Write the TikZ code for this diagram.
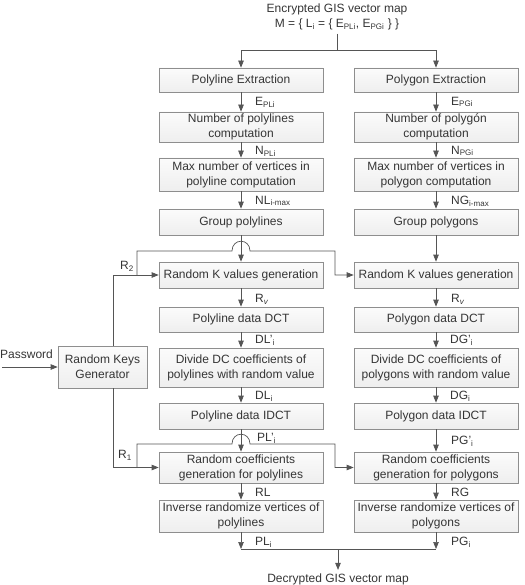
\documentclass[tikz,border=0pt]{standalone}
\usepackage{fontspec}
\setmainfont{Liberation Sans}
\usetikzlibrary{arrows.meta}
\definecolor{wirec}{HTML}{555555}
\definecolor{txc}{HTML}{353535}
\definecolor{bdc}{HTML}{8E8E8E}
\newcommand{\sbs}[1]{\textsubscript{#1}}
\begin{document}
\begin{tikzpicture}[x=1pt,y=-1pt,
  font=\fontsize{12}{15}\selectfont, text=txc,
  box/.style={draw=bdc, line width=0.7pt, top color=gray!3, bottom color=gray!13,
    minimum width=164pt, align=center, inner sep=1pt},
  wire/.style={draw=wirec, line width=0.7pt},
  arr/.style={wire, -{Triangle[length=7pt,width=5.5pt]}},
  lab/.style={anchor=west, inner sep=0pt}]
\useasboundingbox (0,0) rectangle (524,585);

% title
\node[align=center] (title) at (337,17) {Encrypted GIS vector map\\M = \{ L\sbs{i} = \{ E\sbs{PLi}, E\sbs{PGi} \} \}};

% left column
\node[box, minimum height=24pt] (plE) at (241,80) {Polyline Extraction};
\node[box, minimum height=30pt] (plN) at (241,127) {Number of polylines\\computation};
\node[box, minimum height=33pt] (plM) at (241,174.5) {Max number of vertices in\\polyline computation};
\node[box, minimum height=26pt] (plG) at (241,222) {Group polylines};
\node[box, minimum height=26pt] (rkL) at (241,275) {Random K values generation};
\node[box, minimum height=25pt] (dctL) at (241,319.5) {Polyline data DCT};
\node[box, minimum height=39pt] (divL) at (241,367.5) {Divide DC coefficients of\\polylines with random value};
\node[box, minimum height=26pt] (idctL) at (241,416) {Polyline data IDCT};
\node[box, minimum height=31pt] (rcL) at (241,467.5) {Random coefficients\\generation for polylines};
\node[box, minimum height=32pt] (irL) at (241,516) {Inverse randomize vertices of\\polylines};

% right column
\node[box, minimum height=24pt] (pgE) at (436,80) {Polygon Extraction};
\node[box, minimum height=30pt] (pgN) at (436,127) {Number of polygón\\computation};
\node[box, minimum height=33pt] (pgM) at (436,174.5) {Max number of vertices in\\polygon computation};
\node[box, minimum height=26pt] (pgG) at (436,222) {Group polygons};
\node[box, minimum height=26pt] (rkR) at (436,275) {Random K values generation};
\node[box, minimum height=25pt] (dctR) at (436,319.5) {Polygon data DCT};
\node[box, minimum height=39pt] (divR) at (436,367.5) {Divide DC coefficients of\\polygons with random value};
\node[box, minimum height=26pt] (idctR) at (436,416) {Polygon data IDCT};
\node[box, minimum height=31pt] (rcR) at (436,467.5) {Random coefficients\\generation for polygons};
\node[box, minimum height=32pt] (irR) at (436,516) {Inverse randomize vertices of\\polygons};

% key generator
\node[box, minimum width=89pt, minimum height=42pt] (rkg) at (102.5,367) {Random Keys\\Generator};
\node[lab] (pwd) at (0,354) {Password};
\coordinate (pwin) at (2,367);
\draw[arr] (pwin) -- (rkg);

% top split
\coordinate (sp) at (337,50);
\draw[wire] (title) -- (sp);
\draw[arr] (sp) -| (plE);
\draw[arr] (sp) -| (pgE);

% vertical chains
\foreach \a/\b in {plE/plN, plN/plM, plM/plG, plG/rkL, rkL/dctL, dctL/divL, divL/idctL, idctL/rcL, rcL/irL,
                   pgE/pgN, pgN/pgM, pgM/pgG, pgG/rkR, rkR/dctR, dctR/divR, divR/idctR, idctR/rcR, rcR/irR}
  \draw[arr] (\a) -- (\b);

% labels left
\node[lab] (l1) at (255,102) {E\sbs{PLi}};
\node[lab] (l2) at (255,151) {N\sbs{PLi}};
\node[lab] (l3) at (255,201) {NL\sbs{i-max}};
\node[lab] (l4) at (255,299) {R\sbs{\textit{v}}};
\node[lab] (l5) at (255,340) {DL'\sbs{i}};
\node[lab] (l6) at (255,396) {DL\sbs{i}};
\node[lab] (l7) at (257,438) {PL'\sbs{i}};
\node[lab] (l8) at (255,492) {RL};
\node[lab] (l9) at (255,542) {PL\sbs{i}};
% labels right
\node[lab] (r1l) at (451,102) {E\sbs{PGi}};
\node[lab] (r2l) at (451,151) {N\sbs{PGi}};
\node[lab] (r3l) at (451,201) {NG\sbs{i-max}};
\node[lab] (r4l) at (451,299) {R\sbs{\textit{v}}};
\node[lab] (r5l) at (450,340) {DG'\sbs{i}};
\node[lab] (r6l) at (450,396) {DG\sbs{i}};
\node[lab] (r7l) at (451,441) {PG'\sbs{i}};
\node[lab] (r8l) at (451,492) {RG};
\node[lab] (r9l) at (451,542) {PG\sbs{i}};

% R2 connections
\node (R2) at (127,266) {R\sbs{2}};
\draw[arr] ([xshift=10.5pt]rkg.north) |- (rkL);
\coordinate (b2) at (137,275);
\coordinate (h2a) at (232,251);
\coordinate (h2b) at (250,251);
\coordinate (c2) at (335,251);
\draw[arr] (b2) |- (h2a) .. controls (232,238) and (250,238) .. (h2b) -- (c2) |- (rkR);

% R1 connections
\node (R1) at (125,455) {R\sbs{1}};
\draw[arr] ([xshift=10.5pt]rkg.south) |- (rcL);
\coordinate (b1) at (137,467.5);
\coordinate (h1a) at (232,444);
\coordinate (h1b) at (250,444);
\coordinate (c1) at (335,444);
\draw[arr] (b1) |- (h1a) .. controls (232,431) and (250,431) .. (h1b) -- (c1) |- (rcR);

% bottom join
\node (dec) at (338,579) {Decrypted GIS vector map};
\coordinate (jn) at (338,549);
\draw[arr] (irL) -- (irL.south |- jn);
\draw[arr] (irR) -- (irR.south |- jn);
\draw[wire] (irL.south |- jn) -- (irR.south |- jn);
\draw[arr] (jn) -- (dec);
\end{tikzpicture}
\end{document}
